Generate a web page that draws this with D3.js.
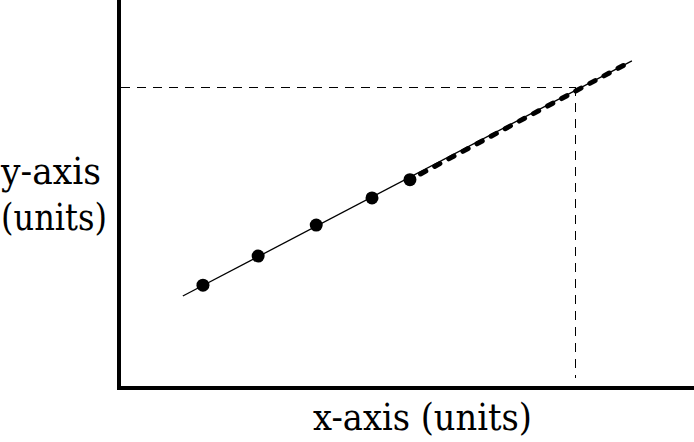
<!DOCTYPE html>
<html>
<head>
<meta charset="utf-8">
<script src="https://cdn.jsdelivr.net/npm/d3@7"></script>
<style>
  body { margin: 0; background: #fff; }
  svg { display: block; }
</style>
</head>
<body>
<div id="chart"></div>
<script>
// measured points (arbitrary units)
var xs = [1.46, 2.42, 3.43, 4.40, 5.06];
var ys = [2.65, 3.40, 4.20, 4.90, 5.37];

// fitted line: solid part and extrapolated (dashed) part
var fitX = [1.11, 5.06, 8.92];
var fitY = [2.37, 5.37, 8.43];

// read-off value on the extrapolation
var readX = [7.93];
var readY = [7.75];

var width = 694,
    height = 442;
var serif = "'DejaVu Serif', 'Liberation Serif', 'Times New Roman', serif";

var x = d3.scaleLinear().domain([0, 10]).range([119, 694]);
var y = d3.scaleLinear().domain([0, 10]).range([388, 0]);

var svg = d3.select("#chart").append("svg")
    .attr("width", width)
    .attr("height", height);

// dashed guide lines to the read-off point
svg.append("line")
    .attr("x1", x(0) + 2).attr("y1", Math.round(y(readY[0])) + 0.5)
    .attr("x2", x(readX[0])).attr("y2", Math.round(y(readY[0])) + 0.5)
    .attr("stroke", "black")
    .attr("stroke-width", 1)
    .attr("shape-rendering", "crispEdges")
    .attr("stroke-dasharray", "9,7");

svg.append("line")
    .attr("x1", Math.round(x(readX[0])) + 0.5).attr("y1", y(readY[0]))
    .attr("x2", Math.round(x(readX[0])) + 0.5).attr("y2", y(0) - 10)
    .attr("stroke", "black")
    .attr("stroke-width", 1)
    .attr("shape-rendering", "crispEdges")
    .attr("stroke-dasharray", "9,7");

// thin fitted line over whole range
svg.append("line")
    .attr("x1", x(fitX[0])).attr("y1", y(fitY[0]))
    .attr("x2", x(fitX[2])).attr("y2", y(fitY[2]))
    .attr("stroke", "black")
    .attr("stroke-width", 1.3);

// thick dashes for extrapolation
svg.append("line")
    .attr("x1", x(fitX[1])).attr("y1", y(fitY[1]))
    .attr("x2", x(fitX[2])).attr("y2", y(fitY[2]))
    .attr("stroke", "black")
    .attr("stroke-width", 5)
    .attr("stroke-linecap", "round")
    .attr("stroke-dasharray", "6,10")
    .attr("stroke-dashoffset", -12);

svg.selectAll("circle")
    .data(xs)
    .enter()
    .append("circle")
    .attr("cx", function(d) { return x(d); })
    .attr("cy", function(d, i) { return y(ys[i]); })
    .attr("r", 6.5)
    .attr("fill", "black");

// axes (no ticks)
svg.append("line")
    .attr("x1", x(0)).attr("y1", 0)
    .attr("x2", x(0)).attr("y2", y(0) + 2)
    .attr("stroke", "black")
    .attr("stroke-width", 4);

svg.append("line")
    .attr("x1", x(0) - 2).attr("y1", y(0))
    .attr("x2", width).attr("y2", y(0))
    .attr("stroke", "black")
    .attr("stroke-width", 4);

// labels: DejaVu Serif is wider than Times, so squeeze to the reference widths
svg.append("text")
    .attr("x", 313)
    .attr("y", 430)
    .attr("font-family", serif)
    .attr("font-size", 38)
    .attr("textLength", 219)
    .attr("lengthAdjust", "spacingAndGlyphs")
    .text("x-axis (units)");

svg.append("text")
    .attr("x", 1)
    .attr("y", 184)
    .attr("font-family", serif)
    .attr("font-size", 38)
    .attr("textLength", 100)
    .attr("lengthAdjust", "spacingAndGlyphs")
    .text("y-axis");

svg.append("text")
    .attr("x", 1)
    .attr("y", 230)
    .attr("font-family", serif)
    .attr("font-size", 38)
    .attr("textLength", 106)
    .attr("lengthAdjust", "spacingAndGlyphs")
    .text("(units)");
</script>
</body>
</html>
